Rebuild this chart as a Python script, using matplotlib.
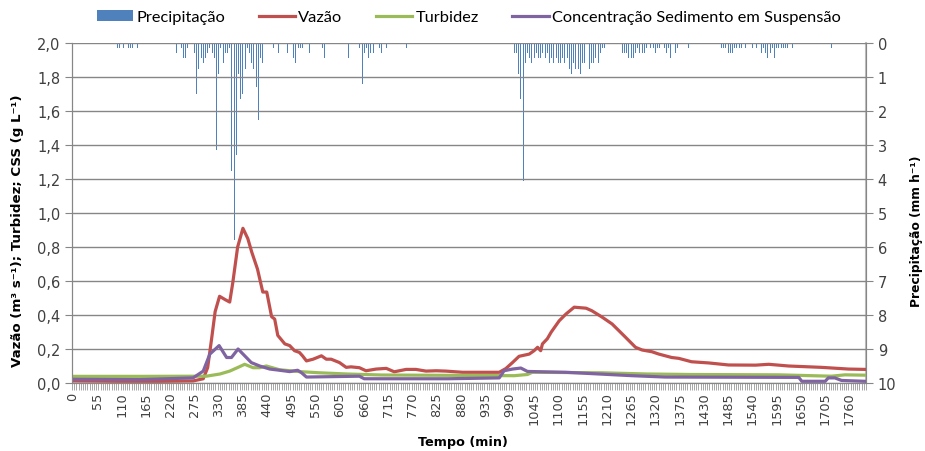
import numpy as np
import matplotlib.pyplot as plt
from matplotlib.ticker import FuncFormatter

# precipitation (mm/h), 5-min bars
precip_min = [95, 100, 105, 115, 125, 130, 135, 145,
              235, 245, 250, 255, 260, 275, 280, 285, 290, 295, 300, 305, 310, 315, 320,
              325, 330, 335, 340, 345, 350, 355, 360, 365, 370, 375, 380, 385, 390, 395,
              400, 405, 410, 415, 420, 425, 430, 435, 455, 460, 465, 485, 500, 505, 510,
              515, 520, 535, 565, 570, 625, 630, 650, 655, 660, 665, 670, 675, 680, 695,
              700, 710, 755,
              995, 1000, 1005, 1010, 1015, 1020, 1025,
              1030, 1035, 1040, 1045, 1050, 1055, 1060, 1065, 1070, 1075, 1080, 1085,
              1090, 1095, 1100, 1105, 1110, 1115, 1120, 1125, 1130, 1135, 1140, 1145,
              1150, 1155, 1160, 1165, 1170, 1175, 1180, 1185, 1190, 1195, 1200, 1205,
              1245, 1250, 1255, 1260, 1265, 1270, 1275, 1280, 1285, 1290, 1295, 1300,
              1310, 1315, 1320, 1325, 1330, 1335, 1340, 1345, 1350, 1355, 1360, 1365,
              1370, 1395,
              1470, 1475, 1480, 1485, 1490, 1495, 1500, 1505, 1510, 1515, 1525,
              1540, 1550, 1560, 1565, 1570, 1575, 1580, 1585, 1590, 1595, 1600, 1605,
              1610, 1615, 1620, 1630, 1720]
precip_mm = [0.15, 0.15, 0.15, 0.15, 0.15, 0.15, 0.15, 0.15,
             0.3, 0.15, 0.45, 0.45, 0.15, 0.3, 1.5, 0.75, 0.45, 0.6, 0.45, 0.3, 0.15, 0.3, 0.45,
             3.15, 0.9, 0.15, 0.6, 0.3, 0.3, 0.15, 3.75, 5.8, 3.3, 0.9, 1.65, 1.5, 0.75, 0.15,
             0.3, 0.6, 0.75, 1.3, 2.25, 0.45, 0.6, 0.3, 0.15, 0.15, 0.3, 0.3, 0.45, 0.6, 0.15,
             0.15, 0.15, 0.3, 0.15, 0.45, 0.45, 0.6, 0.15, 1.2, 0.3, 0.15, 0.45, 0.3, 0.3, 0.15,
             0.3, 0.15, 0.15,
             0.9, 0.3, 0.3, 0.9, 1.65, 4.05, 0.6,
             0.3, 0.45, 0.6, 0.45, 0.3, 0.45, 0.45, 0.3, 0.45, 0.3, 0.6, 0.45,
             0.6, 0.45, 0.6, 0.6, 0.45, 0.6, 0.45, 0.75, 0.9, 0.6, 0.75, 0.75,
             0.9, 0.6, 0.6, 0.75, 0.75, 0.6, 0.6, 0.45, 0.6, 0.3, 0.15, 0.15,
             0.3, 0.3, 0.3, 0.45, 0.45, 0.45, 0.3, 0.15, 0.3, 0.3, 0.3, 0.15,
             0.15, 0.15, 0.3, 0.15, 0.15, 0.45, 0.15, 0.3, 0.15, 0.45, 0.3, 0.3,
             0.15, 0.15,
             0.15, 0.15, 0.15, 0.3, 0.3, 0.3, 0.15, 0.15, 0.15, 0.15, 0.15,
             0.15, 0.15, 0.3, 0.15, 0.3, 0.45, 0.3, 0.15, 0.45, 0.15, 0.15, 0.15,
             0.15, 0.15, 0.15, 0.15, 0.15]

# vazao (m3/s)
vazao_t = [0, 100, 200, 272, 295, 305, 314, 322, 332, 345, 355, 362, 373, 385, 396, 405,
           418, 430, 439, 450, 457, 464, 480, 491, 502, 513, 520, 529, 544, 563, 574, 585,
           604, 619, 630, 649, 664, 687, 710, 728, 755, 777, 800, 823, 845, 883, 921, 966,
           981, 996, 1011, 1034, 1045, 1053, 1060, 1064, 1075, 1084, 1102, 1117, 1136,
           1163, 1176, 1199, 1222, 1252, 1275, 1290, 1312, 1328, 1357, 1373, 1402, 1441,
           1486, 1547, 1577, 1622, 1697, 1758, 1795]
vazao = [0.012, 0.01, 0.01, 0.012, 0.025, 0.09, 0.26, 0.42, 0.51, 0.49, 0.476, 0.59, 0.8,
         0.91, 0.85, 0.77, 0.67, 0.535, 0.535, 0.39, 0.376, 0.28, 0.23, 0.22, 0.19, 0.18,
         0.16, 0.13, 0.14, 0.16, 0.14, 0.14, 0.12, 0.092, 0.095, 0.09, 0.072, 0.082, 0.086,
         0.066, 0.08, 0.08, 0.07, 0.072, 0.07, 0.063, 0.063, 0.063, 0.085, 0.12, 0.157,
         0.17, 0.19, 0.21, 0.19, 0.23, 0.26, 0.3, 0.366, 0.405, 0.446, 0.44, 0.425, 0.388,
         0.347, 0.27, 0.21, 0.194, 0.184, 0.17, 0.15, 0.145, 0.125, 0.118, 0.106, 0.105,
         0.11, 0.10, 0.092, 0.082, 0.08]

# turbidez
turb_t = [0, 150, 302, 333, 355, 374, 389, 408, 423, 438, 468, 513, 559, 620, 700, 850,
          1000, 1030, 1041, 1200, 1300, 1400, 1600, 1719, 1750, 1795]
turb = [0.039, 0.039, 0.04, 0.053, 0.07, 0.092, 0.11, 0.09, 0.09, 0.10, 0.078, 0.067,
        0.06, 0.053, 0.047, 0.045, 0.043, 0.05, 0.063, 0.06, 0.053, 0.05, 0.048, 0.04,
        0.048, 0.046]

# concentracao sedimento em suspensao (g/L)
css_t = [0, 150, 272, 295, 310, 331, 348, 359, 374, 389, 404, 423, 446, 468, 491, 509,
         518, 529, 600, 649, 660, 700, 850, 966, 977, 996, 1015, 1030, 1117, 1192, 1267,
         1343, 1645, 1652, 1705, 1712, 1727, 1742, 1795]
css = [0.022, 0.02, 0.03, 0.07, 0.17, 0.22, 0.15, 0.15, 0.2, 0.16, 0.12, 0.10, 0.082,
       0.075, 0.067, 0.075, 0.06, 0.035, 0.038, 0.04, 0.025, 0.025, 0.025, 0.03, 0.072,
       0.082, 0.088, 0.068, 0.063, 0.053, 0.043, 0.035, 0.033, 0.01, 0.01, 0.03, 0.03,
       0.015, 0.01]

xticks = list(range(0, 1761, 55))

plt.rcParams['font.family'] = 'DejaVu Sans'
grey = '#868686'

fig = plt.figure(figsize=(9.25, 4.52), dpi=100)
ax = fig.add_axes([72 / 925, 1 - 384 / 452, 794 / 925, 340 / 452])
ax2 = ax.twinx()

bars = ax2.bar(precip_min, precip_mm, width=2.2, color='#4F81BD', linewidth=0,
               label='Precipitação')
ax2.set_ylim(10, 0)
ax2.set_yticks(range(0, 11))

l1, = ax.plot(vazao_t, vazao, color='#C0504D', lw=2.3, label='Vazão')
l2, = ax.plot(turb_t, turb, color='#9BBB59', lw=2.3, label='Turbidez')
l3, = ax.plot(css_t, css, color='#8064A2', lw=2.3,
              label='Concentração Sedimento em Suspensão')

ax.set_zorder(ax2.get_zorder() + 1)
ax.patch.set_visible(False)

ax.set_xlim(-2.5, 1797.5)
ax.set_ylim(0, 2.0)
ax.set_yticks(np.arange(0, 2.01, 0.2))
ax.yaxis.set_major_formatter(FuncFormatter(lambda v, p: f'{v:.1f}'.replace('.', ',')))
ax.grid(axis='y', color=grey, lw=1)
ax.set_axisbelow(True)

ax.set_xticks(xticks)
ax.set_xticklabels([str(v) for v in xticks], rotation=90, fontsize=9.3)
ax.set_xticks(np.arange(-2.5, 1798, 5), minor=True)
ax.tick_params(axis='x', which='major', length=0, pad=6)
ax.tick_params(axis='x', which='minor', length=5, color='#A6A6A6', width=0.7)
ax.tick_params(axis='y', length=5, color=grey, labelsize=10.5, labelcolor='#404040')
ax2.tick_params(axis='y', length=5, color=grey, labelsize=10.5, labelcolor='#404040')
ax.tick_params(axis='x', labelcolor='#404040')

for a in (ax, ax2):
    a.spines['top'].set_visible(False)
    for s in ('left', 'right', 'bottom'):
        a.spines[s].set_color(grey)
ax2.spines['right'].set_color('#BFBFBF')
ax2.spines['right'].set_linewidth(1.5)

ax.set_ylabel('Vazão (m³ s⁻¹); Turbidez; CSS (g L⁻¹)', fontweight='bold', fontsize=9.6)
ax.yaxis.set_label_coords(-0.06, 0.45)
ax2.set_ylabel('Precipitação (mm h⁻¹)', fontweight='bold', fontsize=8.8)
ax2.yaxis.set_label_coords(1.055, 0.45)
ax.set_xlabel('Tempo (min)', fontweight='bold', fontsize=9.2)
ax.xaxis.set_label_coords(0.492, -0.152)

fig.legend([bars, l1, l2, l3],
           ['Precipitação', 'Vazão', 'Turbidez', 'Concentração Sedimento em Suspensão'],
           loc='center', bbox_to_anchor=(469 / 925, 1 - 18 / 452), ncol=4, frameon=False,
           prop={'family': 'Lato', 'size': 11.8}, handlelength=2.2, handletextpad=0.2,
           columnspacing=2.05, borderpad=0)

fig.savefig('out.png', dpi=100)
